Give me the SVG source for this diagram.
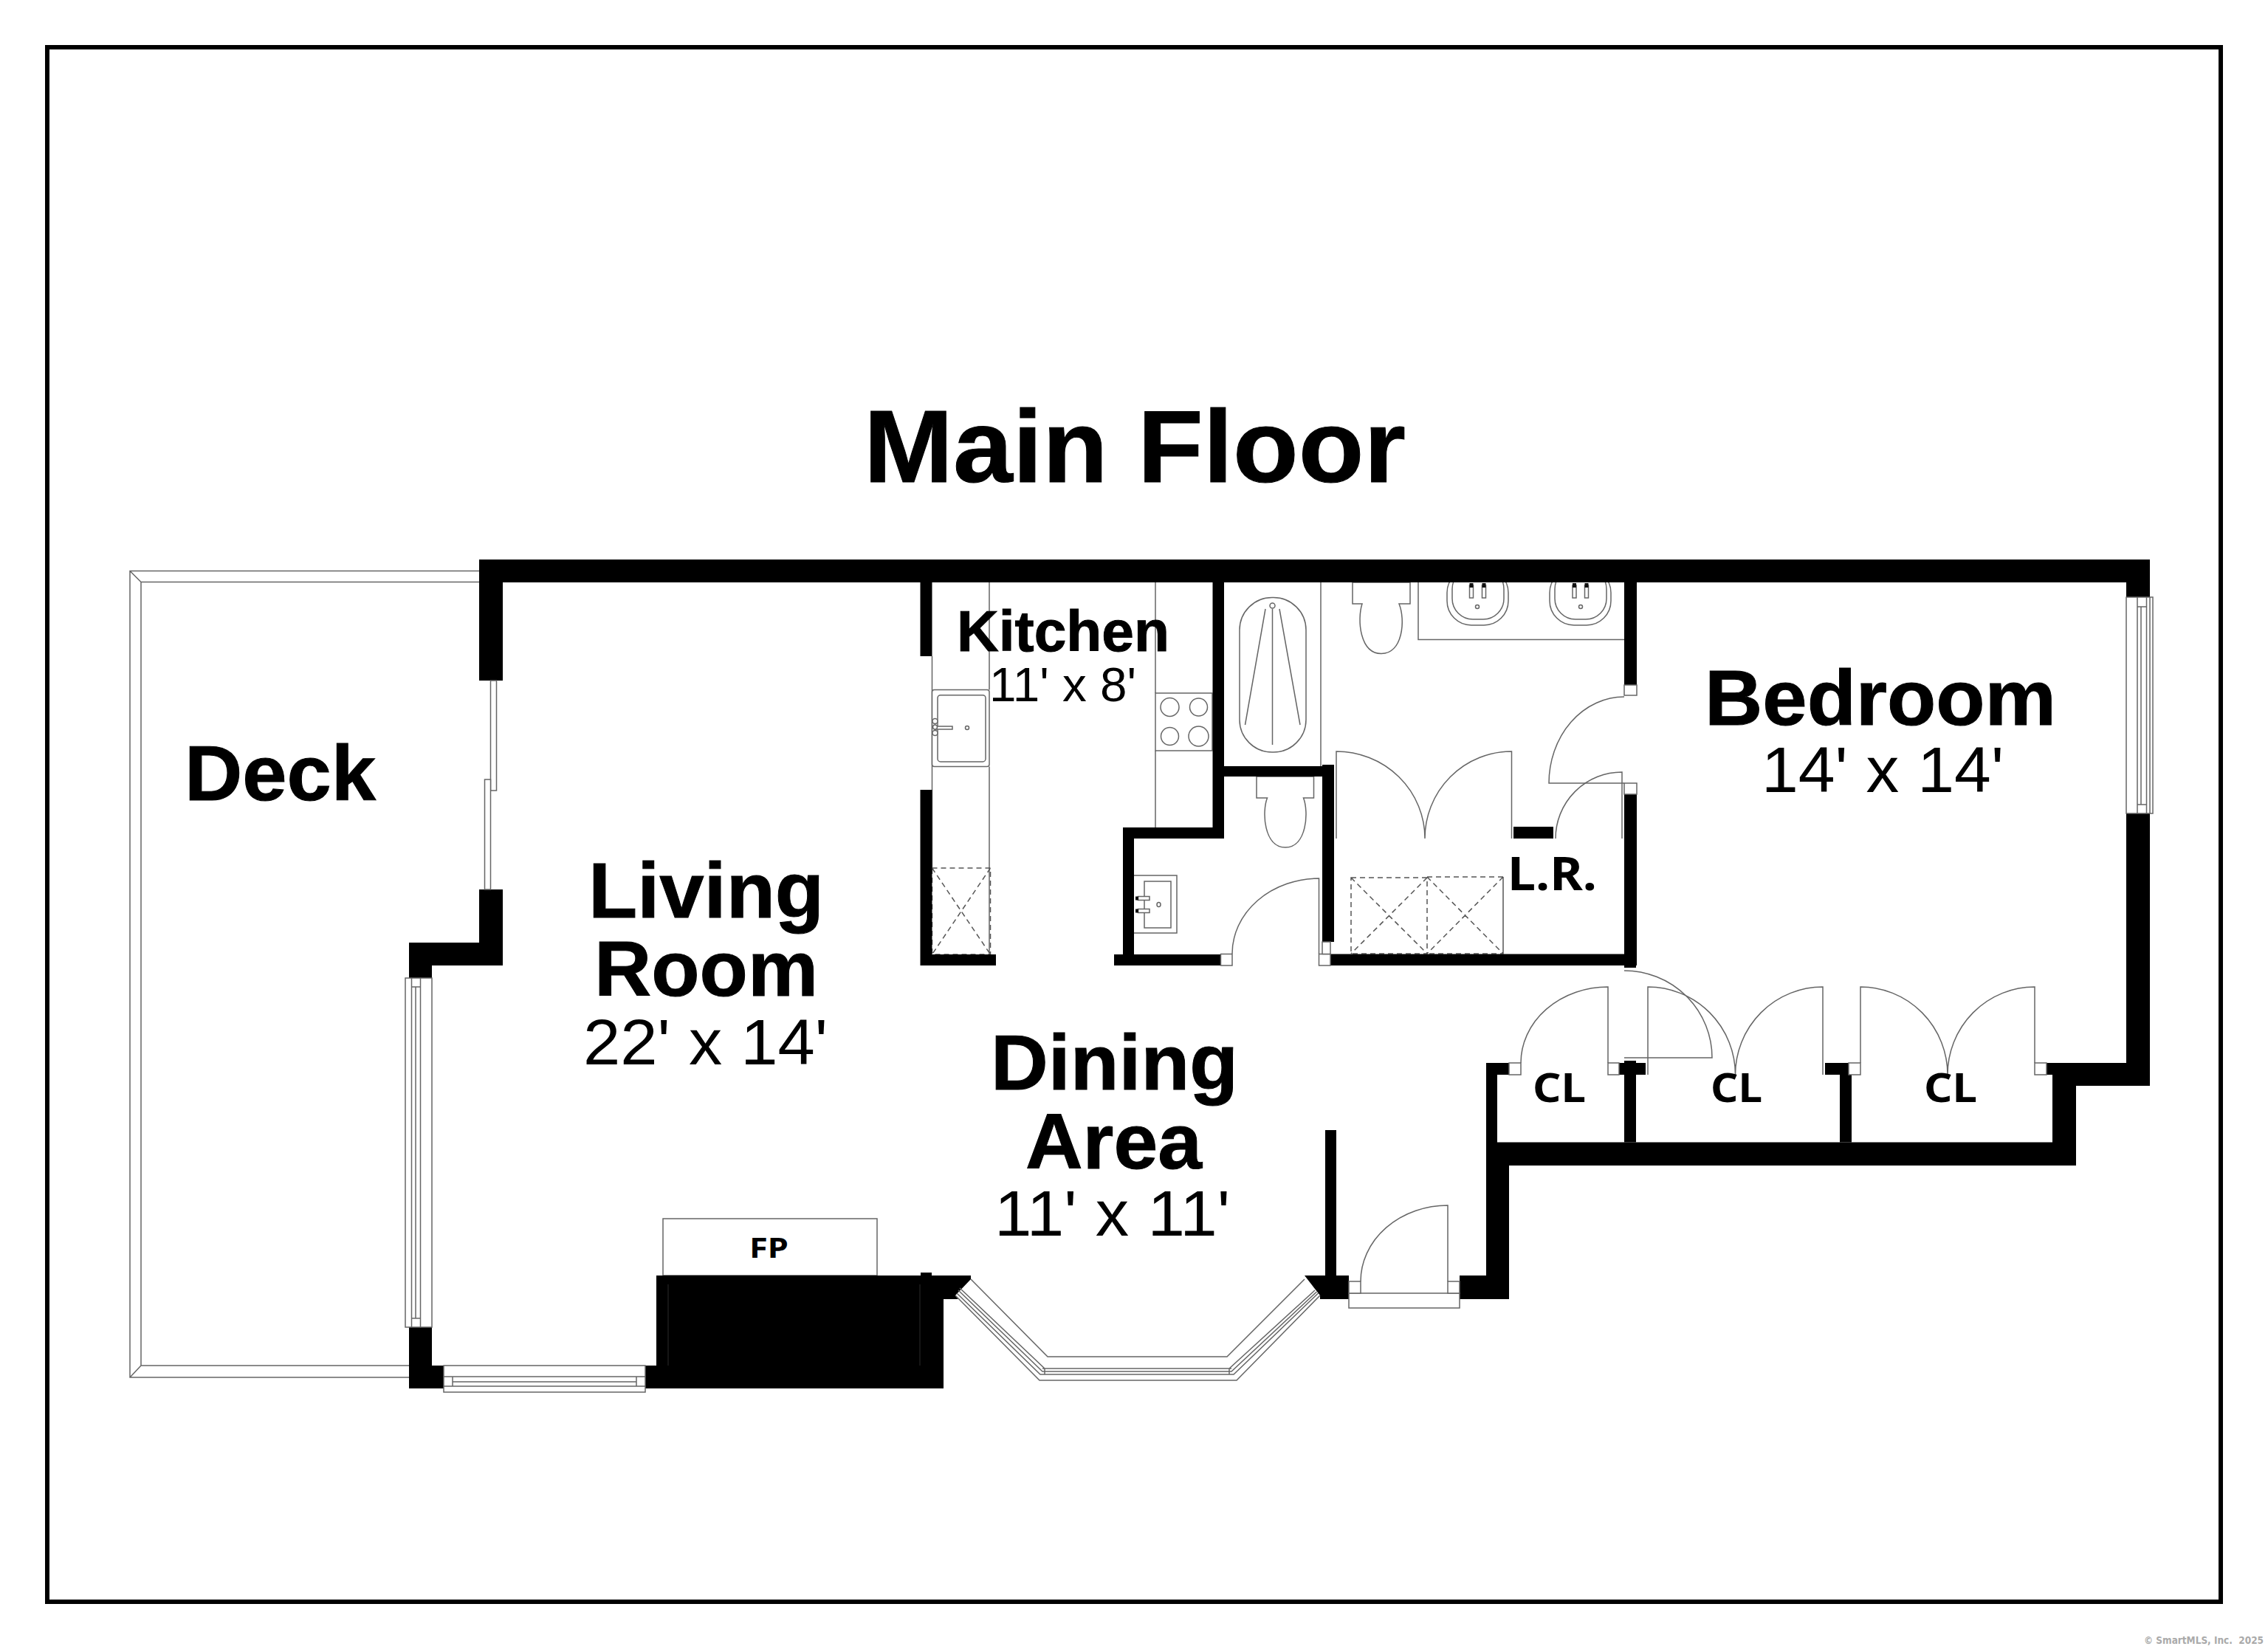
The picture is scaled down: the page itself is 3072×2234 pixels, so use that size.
<svg xmlns="http://www.w3.org/2000/svg" width="3072" height="2234" viewBox="0 0 3072 2234">
<style>
.b{font-family:"Liberation Sans",Arial,sans-serif;font-weight:700;fill:#000;stroke:#000;stroke-width:1}
.r{font-family:"Liberation Sans",Arial,sans-serif;font-weight:400;fill:#000}
.h{font-family:"Noto Sans",sans-serif;font-weight:700;fill:#000}
.l{fill:none;stroke:#666;stroke-width:1.5}
.f{fill:#fff;stroke:#666;stroke-width:1.5}
.d{fill:none;stroke:#555;stroke-width:1.5;stroke-dasharray:7 5}
.w{fill:#000}
.k{fill:#111}
</style>
<rect width="3072" height="2234" fill="#fff"/>
<rect id="frame" x="64" y="64" width="2944" height="2106" fill="none" stroke="#000" stroke-width="6"/>
<g id="deck">
<path class="l" d="M649 773.5H176V1866H554M649 788.5H191V1850H554M176 773.5L191 788.5M176 1866L191 1850"/>
</g>
<g id="kitchen-fixtures">
<path class="l" d="M1262.5 889V1176M1340 789V934.5M1340 1038.5V1293M1565 789V939M1565 1017V1121"/>
<rect class="f" x="1262.5" y="934.5" width="77.5" height="104" rx="3"/>
<rect class="l" x="1270" y="941.7" width="65" height="90.3" rx="4"/>
<rect class="f" x="1266" y="984" width="24" height="4"/>
<circle class="f" cx="1266.5" cy="977" r="3.5"/><circle class="f" cx="1266.5" cy="993" r="3.5"/><circle class="f" cx="1266.5" cy="985" r="3"/>
<circle class="l" cx="1310" cy="986" r="2.5"/>
<path class="d" d="M1262.5 1176H1341.5V1293H1262.5ZM1262.5 1176L1341.5 1293M1341.5 1176L1262.5 1293"/>
<rect class="f" x="1565" y="939" width="77" height="78"/>
<circle class="l" cx="1584.5" cy="958" r="12.5"/><circle class="l" cx="1623.5" cy="958" r="12"/><circle class="l" cx="1584.5" cy="997.5" r="12"/><circle class="l" cx="1623.5" cy="997.5" r="13.5"/>
</g>
<g id="bath-fixtures">
<path class="l" d="M1789 789V1038"/>
<rect class="l" x="1679" y="809.5" width="90" height="209.5" rx="44"/>
<circle class="l" cx="1723.5" cy="820.5" r="3.5"/>
<path class="l" d="M1714 825L1686.5 982M1733 825L1761 982M1723.5 825V1009"/>
<path class="f" d="M1832 789V818H1845C1838 840 1842 885.5 1871 885.5C1900 885.5 1904 840 1895 818H1910V789Z"/>
<path class="l" d="M1921 789V866.5H2200"/>
<rect class="l" x="1960" y="770" width="83" height="77" rx="33"/>
<rect class="l" x="1967" y="770" width="70" height="69" rx="28"/>
<circle class="l" cx="2001" cy="822" r="2.5"/>
<rect class="f" x="1990.5" y="793" width="5" height="17"/><rect class="f" x="2007.5" y="793" width="5" height="17"/>
<rect class="k" x="1990.5" y="790" width="5" height="6"/><rect class="k" x="2007.5" y="790" width="5" height="6"/>
<rect class="l" x="2099" y="770" width="83" height="77" rx="33"/>
<rect class="l" x="2106" y="770" width="70" height="69" rx="28"/>
<circle class="l" cx="2141" cy="822" r="2.5"/>
<rect class="f" x="2130" y="793" width="5" height="17"/><rect class="f" x="2146.5" y="793" width="5" height="17"/>
<rect class="k" x="2130" y="790" width="5" height="6"/><rect class="k" x="2146.5" y="790" width="5" height="6"/>
</g>
<g id="powder-fixtures">
<path class="f" d="M1702 1052V1081H1716.5C1709 1100 1712 1148 1741 1148C1770 1148 1773 1100 1765.5 1081H1779.5V1052Z"/>
<rect class="f" x="1530" y="1186" width="64" height="78"/>
<rect class="l" x="1550" y="1194" width="36" height="63"/>
<ellipse class="l" cx="1569.5" cy="1225.5" rx="2.5" ry="3"/>
<rect class="f" x="1541.5" y="1214.5" width="15.5" height="5"/><rect class="f" x="1541.5" y="1231.5" width="15.5" height="5"/>
<rect class="k" x="1538" y="1214.5" width="4" height="5"/><rect class="k" x="1538" y="1231.5" width="4" height="5"/>
</g>
<g id="laundry-fixtures">
<path class="d" d="M1830 1189H1933V1292H1830ZM1830 1189L1933 1292M1933 1189L1830 1292M1933 1188H2036V1292H1933M2036 1188V1292M1933 1188L2036 1292M2036 1188L1933 1292"/>
</g>
<g id="fireplace">
<rect class="f" x="898" y="1651" width="290" height="77"/>
</g>
<g id="walls">
<path class="w" d="M649 758H2912V1102H2880V789H681V922H649Z"/>
<path class="w" d="M649 1205H681V1308H585V1325H554V1277H649Z"/>
<path class="w" d="M554 1798H585V1850H601V1881H554Z"/>
<path class="w" d="M874 1850H889V1728H1247V1724H1262V1728H1315V1733L1294 1755L1298 1760H1278V1881H874Z"/>
<path class="l" d="M905 1740V1850M1246 1740V1850" style="stroke:#1c1c1c"/>
<rect class="w" x="1246.5" y="789" width="16" height="100"/>
<path class="w" d="M1246.5 1070H1262.5V1293H1349V1308H1246.5Z"/>
<path class="w" d="M1642.5 789H1658V1038H1791V1036H1807V1276H1791V1052H1658V1136H1536V1293H1653.5V1308H1509V1293H1521V1121H1642.5Z"/>
<path class="w" d="M1802 1292.5H2200V1076H2217V1308H2216V1311H2200V1308H1802Z"/>
<rect class="w" x="2200" y="789" width="17" height="139"/>
<rect class="w" x="2050" y="1120" width="54" height="16"/>
<path class="w" d="M2772 1440H2880V1102H2912V1471H2812V1579H2044V1760H1977V1728H2013V1440H2044V1456H2028V1547.5H2780V1456H2772Z"/>
<path class="w" d="M2193 1440H2200V1437H2216V1440H2229V1456H2216V1547.5H2200V1456H2193Z"/>
<path class="w" d="M2472 1440H2504V1456H2508V1547.5H2492V1456H2472Z"/>
<path class="w" d="M1767 1728H1795V1531H1810V1728H1827V1760H1788V1755Z"/>
</g>
<g id="windows">
<rect class="f" x="664.5" y="922" width="8" height="149"/>
<rect class="f" x="656.5" y="1056" width="8" height="149"/>
<rect class="f" x="549" y="1325" width="36" height="473"/>
<path class="l" d="M557.5 1325V1798M569.5 1325V1798M563 1337V1786M557.5 1337H569.5M557.5 1786H569.5"/>
<rect class="f" x="601" y="1850" width="273" height="36"/>
<path class="l" d="M601 1865H874M613 1872H862M601 1878H874M613 1865V1878M862 1865V1878"/>
<rect class="f" x="2880" y="809" width="36" height="293"/>
<path class="l" d="M2895 809V1102M2900 822V1090M2907.5 809V1102M2912 809V1102M2895 822H2907.5M2895 1090H2907.5"/>
<path class="l" d="M1315 1733L1419 1838H1662L1767 1733M1294 1755L1408 1870H1675L1788 1755"/>
<path class="l" d="M1300 1745L1415 1854H1665L1781 1748M1298 1748L1412 1858H1668L1783.5 1750M1296 1752L1409 1862H1671L1785.5 1752M1415 1854V1862M1665 1854V1862M1412 1854H1668"/>
</g>
<g id="doors">
<path class="f" d="M1961 1736V1633A118 103 0 0 0 1843 1736"/>
<rect class="f" x="1827" y="1752" width="150" height="20"/>
<rect class="f" x="1827" y="1736" width="16" height="16"/>
<rect class="f" x="1961" y="1736" width="16" height="16"/>
<path class="l" d="M1786.5 1292V1190A118 102 0 0 0 1669 1292"/>
<rect class="f" x="1653.5" y="1292.5" width="15.5" height="15.5"/>
<rect class="f" x="1786.5" y="1292.5" width="15.5" height="15.5"/>
<rect class="f" x="1791" y="1276" width="11" height="16.5"/>
<path class="l" d="M1810 1136V1018A120 118 0 0 1 1930 1136A117.5 118 0 0 1 2047.5 1018V1136"/>
<path class="l" d="M2197 1136V1046A90 90 0 0 0 2107 1136"/>
<path class="l" d="M2200 1061H2098A102 117 0 0 1 2200 944"/>
<rect class="f" x="2200" y="928" width="17" height="14"/>
<rect class="f" x="2200" y="1061" width="17" height="15"/>
<path class="l" d="M2200 1315A119 118 0 0 1 2319 1433H2200"/>
<path class="l" d="M2178 1440V1337A118 103 0 0 0 2060 1440"/>
<rect class="f" x="2044" y="1440" width="16" height="16"/>
<rect class="f" x="2178" y="1440" width="15" height="16"/>
<path class="l" d="M2232 1456V1337A118.5 119 0 0 1 2350.5 1456A118.5 119 0 0 1 2469 1337V1456"/>
<path class="l" d="M2520 1440V1337A118 119 0 0 1 2638 1456A118 119 0 0 1 2756 1337V1440"/>
<rect class="f" x="2504" y="1440" width="16" height="16"/>
<rect class="f" x="2756" y="1440" width="16" height="16"/>
</g>
<g id="labels">
<text class="b" x="1170" y="653" font-size="140" textLength="734" lengthAdjust="spacingAndGlyphs">Main Floor</text>
<text class="b" x="250" y="1084" font-size="105" textLength="259" lengthAdjust="spacingAndGlyphs">Deck</text>
<text class="b" x="797" y="1243" font-size="106" textLength="319" lengthAdjust="spacingAndGlyphs">Living</text>
<text class="b" x="805" y="1349" font-size="106" textLength="303" lengthAdjust="spacingAndGlyphs">Room</text>
<text class="r" x="790" y="1442" font-size="88" textLength="331" lengthAdjust="spacingAndGlyphs">22' x 14'</text>
<text class="b" x="1342" y="1476" font-size="106" textLength="335" lengthAdjust="spacingAndGlyphs">Dining</text>
<text class="b" x="1389" y="1583" font-size="106" textLength="239" lengthAdjust="spacingAndGlyphs">Area</text>
<text class="r" x="1347" y="1674" font-size="88" textLength="319" lengthAdjust="spacingAndGlyphs">11' x 11'</text>
<text class="b" x="1296" y="882" font-size="77" textLength="288" lengthAdjust="spacingAndGlyphs">Kitchen</text>
<text class="r" x="1340" y="950" font-size="64" textLength="199" lengthAdjust="spacingAndGlyphs">11' x 8'</text>
<text class="b" x="2309" y="982" font-size="106" textLength="476" lengthAdjust="spacingAndGlyphs">Bedroom</text>
<text class="r" x="2386" y="1073" font-size="88" textLength="328" lengthAdjust="spacingAndGlyphs">14' x 14'</text>
<text class="h" x="2042" y="1206" font-size="62" textLength="121" lengthAdjust="spacingAndGlyphs">L.R.</text>
<text class="h" x="2076" y="1493" font-size="53" textLength="72" lengthAdjust="spacingAndGlyphs">CL</text>
<text class="h" x="2317" y="1493" font-size="53" textLength="70" lengthAdjust="spacingAndGlyphs">CL</text>
<text class="h" x="2606" y="1493" font-size="53" textLength="72" lengthAdjust="spacingAndGlyphs">CL</text>
<text class="h" x="1015" y="1704" font-size="38" textLength="53" lengthAdjust="spacingAndGlyphs">FP</text>
<text x="2904" y="2227" font-family="DejaVu Sans,sans-serif" font-weight="700" font-size="13.5" fill="#aaa" textLength="162" lengthAdjust="spacingAndGlyphs" style="white-space:pre">© SmartMLS, Inc.  2025</text>
</g>
</svg>
